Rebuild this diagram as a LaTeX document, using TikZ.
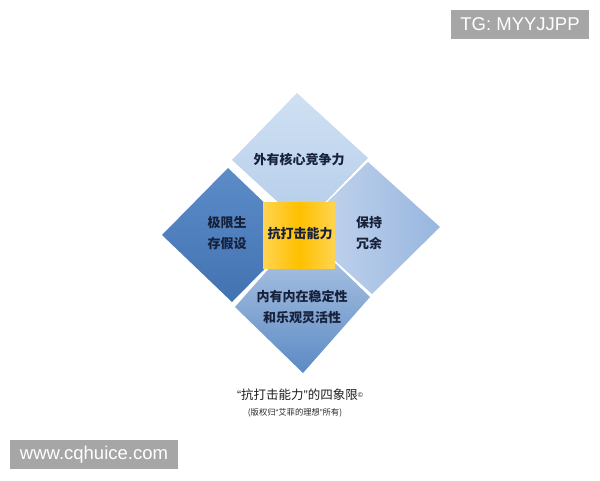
\documentclass[tikz,border=0pt]{standalone}
\usepackage{fontspec}
\setmainfont{Liberation Sans}
\newfontfamily\cjk{Noto Sans CJK SC}
\newfontfamily\lat{Liberation Sans}
\usetikzlibrary{shapes.geometric}
\definecolor{navy}{HTML}{17213A}
\definecolor{wm}{HTML}{A6A6A6}
\begin{document}
\begin{tikzpicture}[x=1pt,y=-1pt,
  lbl/.style={font=\fontsize{13}{21}\selectfont\cjk\bfseries, text=navy, align=center, inner sep=0pt},
  wmbox/.style={fill=wm, text=white, inner sep=0pt, font=\fontsize{18.5}{20}\selectfont\lat}]
\useasboundingbox (0,0) rectangle (600,480);
\fill[white] (0,0) rectangle (600,480);
% quadrants
\path[top color={rgb,255:red,208;green,224;blue,243}, bottom color={rgb,255:red,180;green,205;blue,234}]
  (297,93) -- (368,158) -- (303,225) -- (232,160) -- cycle;
\path[top color={rgb,255:red,92;green,140;blue,200}, bottom color={rgb,255:red,66;green,114;blue,176}]
  (228,168) -- (298,235) -- (232,302) -- (162,235) -- cycle;
\path[left color={rgb,255:red,200;green,216;blue,239}, right color={rgb,255:red,152;green,182;blue,223}]
  (368,162) -- (440,227) -- (372,294) -- (300,229) -- cycle;
\path[top color={rgb,255:red,184;green,205;blue,232}, bottom color={rgb,255:red,92;green,138;blue,196}]
  (302,231) -- (370,297) -- (303,373) -- (235,307) -- cycle;
% centre square
\node[rectangle, minimum width=72, minimum height=66, inner sep=0pt,
  left color={rgb,255:red,255;green,212;blue,80}, right color={rgb,255:red,255;green,212;blue,80},
  middle color={rgb,255:red,255;green,192;blue,0}] (core) at (299,235) {};
\node[lbl] (coret) at (300,234) {抗打击能力};
% labels
\node[lbl] (top) at (299,160) {外有核心竞争力};
\node[lbl] (left) at (227,233) {极限生\\存假设};
\node[lbl] (right) at (369,233) {保持\\冗余};
\node[lbl] (bottom) at (302,307) {内有内在稳定性\\和乐观灵活性};
% caption
\node[inner sep=0pt, text={rgb,255:red,30;green,30;blue,30}, font=\fontsize{12.5}{14}\selectfont\cjk] (cap) at (300,395)
  {{\lat “}抗打击能力{\lat ”}的四象限{\lat\fontsize{7}{8}\selectfont\raisebox{2pt}{©}}};
\node[inner sep=0pt, text={rgb,255:red,40;green,40;blue,40}, font=\fontsize{8.3}{10}\selectfont\cjk] (cap2) at (295,413)
  {(版权归{\lat “}艾菲的理想{\lat ”}所有)};
% watermarks
\node[wmbox, minimum width=138, minimum height=29] (tg) at (520,24.5) {TG: MYYJJPP};
\node[wmbox, minimum width=168, minimum height=29] (www) at (94,454.5) {www.cqhuice.com};
\end{tikzpicture}
\end{document}
